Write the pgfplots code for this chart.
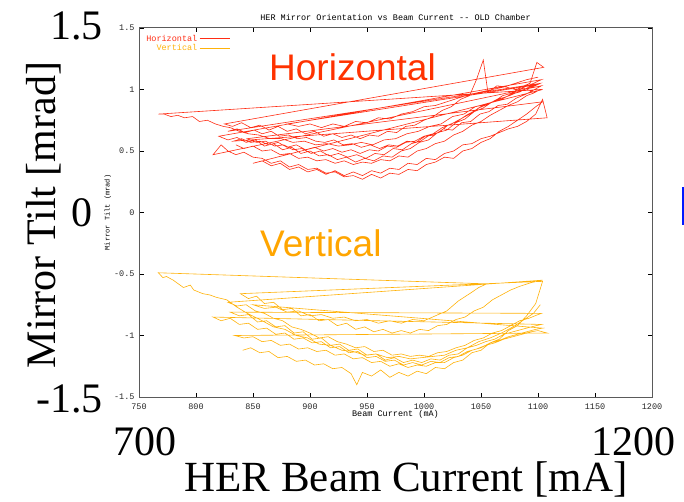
\documentclass[border=0pt]{standalone}
\usepackage{fontspec}
\usepackage{pgfplots}
\pgfplotsset{compat=1.18}
\setmainfont{Liberation Serif}
\newfontfamily\gp{Liberation Mono}
\newfontfamily\ar{Liberation Sans}
\definecolor{hred}{RGB}{255,45,20}
\definecolor{vorg}{RGB}{255,178,10}
\definecolor{hbig}{RGB}{255,50,0}
\definecolor{vbig}{RGB}{255,165,0}
\definecolor{frm}{RGB}{90,90,90}
\begin{document}
\begin{tikzpicture}[x=1pt,y=1pt]
\useasboundingbox (0,0) rectangle (684,501);
\begin{axis}[
  at={(139pt,104pt)}, anchor=south west,
  width=513pt, height=369pt, scale only axis,
  xmin=750, xmax=1200, ymin=-1.5, ymax=1.5,
  axis line style={frm, line width=1pt},
  xtick={750,800,...,1200},
  xticklabels={750,800,850,900,950,1000,1050,1100,1150,1200},
  ytick={-1.5,-1,-0.5,0,0.5,1,1.5},
  yticklabels={-1.5,-1,-0.5,0,0.5,1,1.5},
  tick align=inside, major tick length=4.5pt,
  tick style={black, line width=0.6pt},
  ticklabel style={font=\gp\fontsize{8.5}{9}\selectfont, text=black!85},
  xticklabel style={yshift=-3pt},
  yticklabel style={xshift=-1pt},
  title={HER Mirror Orientation vs Beam Current -{}- OLD Chamber},
  title style={font=\gp\fontsize{8.5}{9}\selectfont, yshift=-2pt},
  xlabel={Beam Current (mA)},
  ylabel={Mirror Tilt (mrad)},
  xlabel style={font=\gp\fontsize{8.5}{9}\selectfont, yshift=6pt},
  ylabel style={font=\gp\fontsize{7}{8}\selectfont, yshift=-4pt},
  legend style={at={(0.008,0.99)}, anchor=north west, draw=none, fill=none,
    font=\gp\fontsize{8.5}{9}\selectfont, row sep=-2pt, inner sep=1pt},
  legend cell align=right,
  legend plot pos=right,
  legend image code/.code={\path (0pt,0pt) -- (6pt,0pt); \draw[#1] (6pt,0pt) -- (30pt,0pt);},
]
\addplot[hred, line width=0.6pt] coordinates {
(835,0.55)(842,0.52)(850,0.54)(858,0.50)(866,0.51)(874,0.47)(882,0.48)(890,0.44)(898,0.45)(906,0.42)(914,0.43)(922,0.40)(930,0.42)(938,0.39)(946,0.41)(954,0.40)(962,0.43)(970,0.42)(978,0.46)(986,0.45)(994,0.50)(1002,0.52)(1010,0.56)(1018,0.58)(1026,0.63)(1034,0.66)(1042,0.71)(1050,0.74)(1058,0.79)(1066,0.83)(1074,0.87)(1082,0.90)(1090,0.95)(1096,0.97)(1102,1.00)
(767,0.80)(772,0.80)(778,0.78)(784,0.79)(790,0.77)(797,0.78)(803,0.74)(810,0.75)(817,0.72)(824,0.70)(830,0.69)(838,0.66)(846,0.64)(855,0.63)(865,0.60)(875,0.60)(885,0.57)(895,0.58)(905,0.55)(915,0.56)(925,0.54)(935,0.55)(945,0.57)(955,0.55)(965,0.59)(975,0.60)(985,0.64)(995,0.66)(1005,0.70)(1015,0.72)(1025,0.78)(1035,0.80)(1045,0.86)(1055,0.88)(1065,0.92)(1075,0.95)(1085,0.99)(1095,1.02)(1102,1.05)
(828,0.66)(836,0.68)(843,0.65)(851,0.67)(858,0.64)(866,0.66)(873,0.62)(881,0.63)(889,0.60)(897,0.61)(905,0.58)(913,0.57)(921,0.59)(929,0.55)(937,0.56)(945,0.53)(953,0.55)(961,0.52)(969,0.55)(977,0.54)(985,0.58)(993,0.57)(1001,0.62)(1009,0.63)(1017,0.68)(1025,0.67)(1033,0.73)(1041,0.74)(1049,0.80)(1057,0.82)(1065,0.87)(1073,0.88)(1081,0.93)(1089,0.96)(1097,1.00)(1103,1.03)
(815,0.47)(822,0.55)(828,0.50)(835,0.47)(842,0.49)(850,0.45)(858,0.44)(866,0.40)(874,0.42)(882,0.37)(890,0.39)(898,0.35)(906,0.36)(914,0.32)(922,0.33)(930,0.29)(938,0.30)(946,0.27)(954,0.31)(962,0.28)(970,0.32)(978,0.31)(986,0.35)(994,0.34)(1002,0.39)(1010,0.41)(1018,0.45)(1026,0.44)(1034,0.50)(1042,0.52)(1050,0.57)(1058,0.60)(1066,0.66)(1074,0.70)(1082,0.75)(1090,0.80)(1098,0.86)(1104,0.90)
(845,0.60)(853,0.57)(861,0.58)(869,0.54)(877,0.55)(885,0.51)(893,0.52)(901,0.48)(909,0.50)(917,0.46)(925,0.48)(933,0.45)(941,0.47)(949,0.44)(957,0.48)(965,0.47)(973,0.52)(981,0.51)(989,0.56)(997,0.58)(1005,0.63)(1013,0.65)(1021,0.71)(1029,0.74)(1037,0.79)(1045,0.83)(1053,0.88)(1061,0.90)(1069,0.95)(1077,0.97)(1085,1.02)(1093,1.05)(1099,1.22)(1105,1.18)
(825,0.72)(832,0.70)(840,0.73)(848,0.69)(856,0.71)(864,0.67)(872,0.70)(880,0.66)(888,0.68)(896,0.64)(904,0.66)(912,0.62)(920,0.64)(928,0.61)(936,0.63)(944,0.60)(952,0.63)(960,0.62)(968,0.66)(976,0.65)(984,0.70)(992,0.71)(1000,0.75)(1008,0.78)(1016,0.83)(1024,0.86)(1032,0.92)(1040,0.95)(1046,1.08)(1052,1.24)(1056,0.98)(1064,1.03)(1072,1.02)(1080,1.00)(1088,1.01)(1096,0.98)(1104,1.00)
(850,0.40)(858,0.42)(866,0.38)(874,0.40)(882,0.35)(890,0.37)(898,0.33)(906,0.35)(914,0.31)(922,0.34)(930,0.30)(938,0.33)(946,0.30)(954,0.34)(962,0.32)(970,0.36)(978,0.35)(986,0.40)(994,0.39)(1002,0.44)(1010,0.43)(1018,0.48)(1026,0.50)(1034,0.55)(1042,0.56)(1050,0.60)(1058,0.62)(1066,0.65)(1074,0.68)(1082,0.70)(1090,0.74)(1098,0.80)(1104,0.92)(1108,0.77)
(833,0.58)(840,0.60)(848,0.57)(856,0.58)(864,0.55)(872,0.57)(880,0.53)(888,0.55)(896,0.51)(904,0.53)(912,0.50)(920,0.52)(928,0.49)(936,0.51)(944,0.48)(952,0.51)(960,0.50)(968,0.54)(976,0.53)(984,0.57)(992,0.58)(1000,0.62)(1008,0.64)(1016,0.69)(1024,0.72)(1032,0.76)(1040,0.80)(1048,0.85)(1056,0.88)(1064,0.92)(1072,0.94)(1080,0.98)(1088,1.02)(1096,1.05)(1103,1.08)
(820,0.62)(828,0.59)(836,0.61)(844,0.57)(852,0.59)(860,0.54)(868,0.56)(876,0.51)(884,0.53)(892,0.48)(900,0.50)(908,0.46)(916,0.47)(924,0.43)(932,0.45)(940,0.41)(948,0.44)(956,0.42)(964,0.46)(972,0.45)(980,0.50)(988,0.52)(996,0.57)(1004,0.59)(1012,0.65)(1020,0.67)(1028,0.73)(1036,0.76)(1044,0.82)(1052,0.85)(1060,0.90)(1068,0.92)(1076,0.96)(1084,0.98)(1092,1.02)(1100,1.04)
(880,0.72)(890,0.70)(900,0.72)(910,0.69)(920,0.72)(930,0.70)(940,0.74)(950,0.73)(960,0.77)(970,0.76)(980,0.80)(990,0.82)(1000,0.86)(1010,0.87)(1020,0.90)(1030,0.93)(1040,0.96)(1050,0.98)(1060,1.00)(1070,1.02)(1080,1.05)(1090,1.08)(1100,1.10)
};
\addlegendentry{\textcolor{hred}{Horizontal}}
\addplot[vorg, line width=0.6pt] coordinates {
(841,-1.12)(848,-1.10)(856,-1.14)(864,-1.13)(872,-1.18)(880,-1.17)(888,-1.21)(896,-1.20)(904,-1.24)(912,-1.23)(920,-1.27)(928,-1.26)(936,-1.31)(941,-1.40)(946,-1.30)(954,-1.33)(962,-1.28)(970,-1.34)(978,-1.30)(986,-1.33)(994,-1.29)(1002,-1.31)(1010,-1.26)(1018,-1.27)(1026,-1.22)(1034,-1.20)(1042,-1.14)(1050,-1.12)(1058,-1.06)(1066,-1.03)(1074,-0.96)(1082,-0.92)(1090,-0.84)(1098,-0.74)(1104,-0.56)
(839,-0.66)(846,-0.70)(853,-0.68)(860,-0.74)(868,-0.73)(876,-0.79)(884,-0.78)(892,-0.84)(900,-0.83)(908,-0.88)(916,-0.87)(924,-0.92)(932,-0.90)(940,-0.95)(948,-0.93)(956,-0.97)(964,-0.95)(972,-0.98)(980,-0.96)(988,-0.98)(996,-0.95)(1004,-0.96)(1012,-0.92)(1020,-0.91)(1028,-0.87)(1036,-0.85)(1044,-0.80)(1052,-0.77)(1060,-0.71)(1068,-0.67)(1076,-0.63)(1084,-0.60)(1094,-0.57)(1104,-0.55)
(828,-0.73)(836,-0.76)(844,-0.75)(852,-0.80)(860,-0.82)(868,-0.86)(876,-0.88)(884,-0.93)(892,-0.95)(900,-0.98)(908,-1.02)(916,-1.01)(924,-1.05)(932,-1.07)(940,-1.10)(948,-1.09)(956,-1.13)(964,-1.12)(972,-1.16)(980,-1.15)(988,-1.17)(996,-1.16)(1004,-1.17)(1012,-1.14)(1020,-1.13)(1028,-1.10)(1036,-1.08)(1044,-1.04)(1052,-1.02)(1060,-0.98)(1068,-0.96)(1076,-0.92)(1084,-0.88)(1092,-0.86)(1100,-0.83)(1103,-0.82)
(830,-0.81)(838,-0.84)(846,-0.83)(854,-0.89)(862,-0.88)(870,-0.93)(878,-0.92)(886,-0.98)(894,-0.97)(902,-1.03)(910,-1.02)(918,-1.08)(926,-1.07)(934,-1.12)(942,-1.11)(950,-1.16)(958,-1.15)(966,-1.20)(974,-1.18)(982,-1.22)(990,-1.20)(998,-1.22)(1006,-1.19)(1014,-1.20)(1022,-1.16)(1030,-1.15)(1038,-1.10)(1046,-1.08)(1054,-1.05)(1062,-1.03)(1070,-0.99)(1078,-0.97)(1086,-0.95)(1094,-0.93)(1103,-0.91)
(815,-0.85)(822,-0.88)(830,-0.86)(838,-0.91)(846,-0.90)(854,-0.95)(862,-0.94)(870,-0.99)(878,-0.98)(886,-1.03)(894,-1.02)(902,-1.06)(910,-1.05)(918,-1.10)(926,-1.09)(934,-1.14)(942,-1.13)(950,-1.18)(958,-1.17)(966,-1.21)(974,-1.20)(982,-1.24)(990,-1.22)(998,-1.24)(1006,-1.21)(1014,-1.22)(1022,-1.18)(1030,-1.17)(1038,-1.13)(1046,-1.11)(1054,-1.08)(1062,-1.06)(1070,-1.03)(1078,-1.01)(1086,-0.99)(1094,-0.97)(1100,-0.96)(1108,-0.98)
(834,-1.00)(842,-1.02)(850,-1.01)(858,-1.05)(866,-1.04)(874,-1.08)(882,-1.07)(890,-1.11)(898,-1.10)(906,-1.13)(914,-1.12)(922,-1.16)(930,-1.15)(938,-1.19)(946,-1.18)(954,-1.22)(962,-1.21)(970,-1.25)(978,-1.23)(986,-1.26)(994,-1.24)(1002,-1.25)(1010,-1.22)(1018,-1.22)(1026,-1.18)(1034,-1.16)(1042,-1.12)(1050,-1.10)(1058,-1.06)(1066,-1.04)(1074,-1.01)(1082,-0.99)(1090,-0.97)(1098,-0.95)(1104,-0.94)
(850,-0.75)(860,-0.78)(870,-0.77)(880,-0.81)(890,-0.80)(900,-0.84)(910,-0.83)(920,-0.86)(930,-0.85)(940,-0.88)(950,-0.87)(960,-0.90)(970,-0.88)(980,-0.90)(990,-0.87)(1000,-0.88)(1010,-0.84)(1020,-0.80)(1030,-0.72)(1040,-0.66)(1048,-0.61)(1055,-0.58)
(767,-0.49)(771,-0.53)(774,-0.52)(780,-0.55)(789,-0.61)(795,-0.59)(798,-0.63)(806,-0.66)(812,-0.67)(818,-0.69)(827,-0.71)(836,-0.77)(845,-0.82)(856,-0.87)(868,-0.93)(878,-0.95)(888,-1.00)(898,-1.02)(908,-1.07)(918,-1.08)(928,-1.12)(938,-1.13)(948,-1.16)(958,-1.15)(968,-1.18)(978,-1.17)(988,-1.19)(998,-1.18)(1008,-1.17)(1018,-1.16)(1028,-1.12)(1038,-1.10)(1048,-1.05)(1058,-1.02)(1068,-0.98)(1078,-0.93)(1088,-0.87)(1096,-0.82)(1102,-0.75)
};
\addlegendentry{\textcolor{vorg}{Vertical}}
\end{axis}
% overlaid slide labels
\node[anchor=base east, font=\fontsize{42}{42}\selectfont, inner sep=0pt] at (103,461) {1.5};
\node[anchor=base, font=\fontsize{42}{42}\selectfont, inner sep=0pt] at (82,274) {0};
\node[anchor=base east, font=\fontsize{42}{42}\selectfont, inner sep=0pt] at (103,89) {-1.5};
\node[anchor=base, font=\fontsize{42}{42}\selectfont, inner sep=0pt] at (145,46) {700};
\node[anchor=base, font=\fontsize{42}{42}\selectfont, inner sep=0pt] at (633,46) {1200};
\node[anchor=base, font=\fontsize{43}{43}\selectfont, inner sep=0pt] at (406,10) {HER Beam Current [mA]};
\node[anchor=base, rotate=90, font=\fontsize{42}{42}\selectfont, inner sep=0pt] at (55,286) {Mirror Tilt [mrad]};
\node[anchor=base west, font=\ar\fontsize{37}{37}\selectfont, text=hbig, inner sep=0pt] at (269,420) {Horizontal};
\node[anchor=base west, font=\ar\fontsize{37}{37}\selectfont, text=vbig, inner sep=0pt] at (260,245) {Vertical};
\draw[blue!90!cyan, line width=2pt] (683,314) -- (683,276);
\end{tikzpicture}
\end{document}
